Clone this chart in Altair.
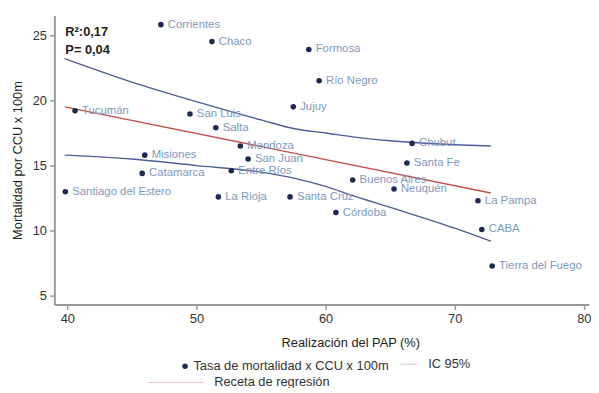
import altair as alt
import pandas as pd

provincias = ["Corrientes", "Chaco", "Formosa", "Río Negro", "Jujuy", "Tucumán", "San Luis",
              "Salta", "Mendoza", "Chubut", "Misiones", "San Juan", "Santa Fe", "Catamarca",
              "Entre Ríos", "Buenos Aires", "Neuquén", "Santiago del Estero", "La Rioja",
              "Santa Cruz", "La Pampa", "Córdoba", "CABA", "Tierra del Fuego"]
pap = [47.25, 51.2, 58.7, 59.5, 57.5, 40.6, 49.5, 51.5, 53.4, 66.7, 46.0, 54.0, 66.3, 45.8,
       52.7, 62.1, 65.3, 39.85, 51.7, 57.25, 71.8, 60.8, 72.1, 72.9]
mortalidad = [25.8, 24.5, 23.9, 21.5, 19.5, 19.2, 18.95, 17.9, 16.5, 16.7, 15.8, 15.5, 15.2, 14.4,
              14.6, 13.9, 13.2, 13.0, 12.6, 12.6, 12.3, 11.4, 10.1, 7.3]

reg_x = [39.8, 72.8]
reg_y = [19.5, 12.9]

ci_x = [39.8, 45, 50, 55, 57.7, 60, 62.1, 65, 70, 72.8]
ci_upper = [23.2, 21.4, 19.9, 18.5, 17.8, 17.5, 17.2, 16.9, 16.6, 16.5]
ci_lower = [15.8, 15.5, 15.0, 14.5, 14.0, 13.4, 12.7, 11.8, 10.2, 9.2]

stats_text = ["R²:0,17", "P= 0,04"]
stats_x = [39.85, 39.85]
stats_y = [25.25, 23.85]

FONT = "Liberation Sans, Arial, sans-serif"
LBL_POINTS = "Tasa de mortalidad x CCU x 100m"
LBL_CI = "IC 95%"
LBL_REG = "Receta de regresión"

pts = pd.DataFrame({"prov": provincias, "x": pap, "y": mortalidad, "leg": LBL_POINTS})
reg = pd.DataFrame({"x": reg_x, "y": reg_y, "leg": LBL_REG})
ci = pd.concat([
    pd.DataFrame({"x": ci_x, "y": ci_upper, "bound": "sup", "leg": LBL_CI}),
    pd.DataFrame({"x": ci_x, "y": ci_lower, "bound": "inf", "leg": LBL_CI}),
])
stats = pd.DataFrame({"t": stats_text, "x": stats_x, "y": stats_y})

xs = alt.Scale(domain=[39.0, 80.4], nice=False, zero=False)
ys = alt.Scale(domain=[4.35, 26.5], nice=False, zero=False)

X = alt.X("x:Q", scale=xs, title="Realización del PAP (%)",
          axis=alt.Axis(values=[40, 50, 60, 70, 80], grid=False, titleX=300, titleY=33))
Y = alt.Y("y:Q", scale=ys, title="Mortalidad por CCU x 100m",
          axis=alt.Axis(values=[5, 10, 15, 20, 25], grid=False, titlePadding=8))

common_leg = dict(title=None, orient="none", labelFont=FONT, labelFontSize=13,
                  labelColor="#333", padding=0, labelLimit=400)

ci_layer = alt.Chart(ci).mark_line(strokeWidth=1.4, interpolate="monotone").encode(
    x=X, y=Y, detail="bound:N",
    stroke=alt.Stroke("leg:N", scale=alt.Scale(domain=[LBL_CI], range=["#4c5d99"]),
                      legend=alt.Legend(legendX=350, legendY=344,
                                        symbolType="stroke", symbolSize=290,
                                        symbolOpacity=0.35, symbolStrokeWidth=1,
                                        labelOffset=10, **common_leg)),
)

reg_layer = alt.Chart(reg).mark_line(strokeWidth=1.4).encode(
    x=X, y=Y,
    color=alt.Color("leg:N", scale=alt.Scale(domain=[LBL_REG], range=["#c0504d"]),
                    legend=alt.Legend(legendX=94, legendY=343,
                                      symbolType="stroke", symbolSize=3249,
                                      symbolOpacity=0.35, symbolStrokeWidth=1,
                                      labelOffset=10, **common_leg)),
)

pt_layer = alt.Chart(pts).mark_circle(size=32, opacity=1).encode(
    x=X, y=Y,
    fill=alt.Fill("leg:N", scale=alt.Scale(domain=[LBL_POINTS], range=["#1c2a4f"]),
                  legend=alt.Legend(legendX=126, legendY=349,
                                    symbolType="circle", symbolSize=30,
                                    labelOffset=2, **common_leg)),
)

txt_layer = alt.Chart(pts).mark_text(align="left", baseline="middle", dx=7, fontSize=11.5,
                                     font=FONT, color="#7d98c0").encode(x=X, y=Y, text="prov:N")

stats_layer = alt.Chart(stats).mark_text(align="left", baseline="middle", fontSize=13,
                                         fontWeight="bold", font=FONT,
                                         color="#222").encode(x=X, y=Y, text="t:N")

chart = alt.layer(ci_layer, reg_layer, pt_layer, txt_layer, stats_layer).properties(
    width=542, height=293,
    autosize=alt.AutoSizeParams(type="none"),
    padding={"left": 47, "top": 5, "right": 2, "bottom": 82},
).configure_view(stroke=None).configure_axis(
    domainColor="#999", domainWidth=2, tickColor="#999", tickWidth=1.5, tickSize=5,
    labelFont=FONT, labelFontSize=13, labelColor="#333", labelPadding=3,
    titleFont=FONT, titleFontSize=13, titleColor="#222", titleFontWeight="normal",
)

chart.save("out.html", embed_options={"renderer": "svg", "actions": False})
